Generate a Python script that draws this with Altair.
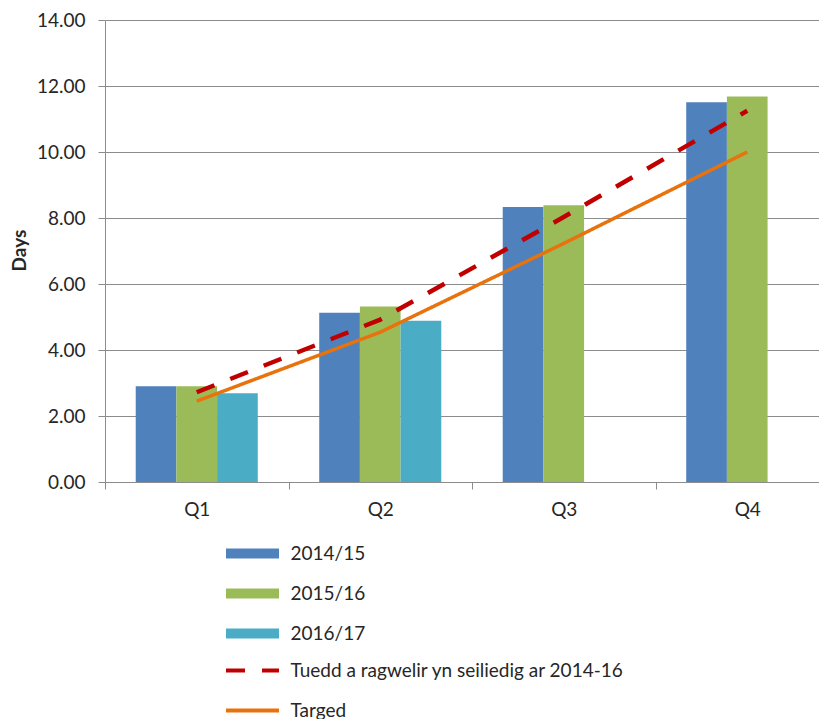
import altair as alt
import pandas as pd

quarters = ["Q1", "Q2", "Q3", "Q4"]
bar_series = ["2014/15", "2015/16", "2016/17"]
v_1415 = [2.90, 5.13, 8.33, 11.51]
v_1516 = [2.90, 5.32, 8.39, 11.68]
v_1617 = [2.69, 4.89, None, None]
line_series = ["Tuedd a ragwelir yn seiliedig ar 2014-16", "Targed"]
trend = [2.72, 4.92, 8.03, 11.25]
target = [2.45, 4.54, 7.23, 10.00]
y_ticks = [0, 2, 4, 6, 8, 10, 12, 14]

bar_colors = ["#4F81BD", "#9BBB59", "#4BACC6"]
line_colors = ["#C00000", "#E8720C"]

rows = []
for s, vals in zip(bar_series, [v_1415, v_1516, v_1617]):
    for q, v in zip(quarters, vals):
        if v is not None:
            rows.append({"quarter": q, "series": s, "value": v})
bars_df = pd.DataFrame(rows)

trend_df = pd.DataFrame({"quarter": quarters, "line": line_series[0], "value": trend})
target_df = pd.DataFrame({"quarter": quarters, "line": line_series[1], "value": target})

FONT = "Lato"
TXT = "#262626"
GRID = "#8C8C8C"

x_scale = alt.Scale(domain=quarters, range=[0, 734], paddingInner=0, paddingOuter=0)
y_scale = alt.Scale(domain=[0, 14], nice=False)

x_axis = alt.Axis(title=None, tickBand="extent", grid=False, domainColor=GRID,
                  tickColor=GRID, tickSize=7, labelFontSize=19, labelFont=FONT,
                  labelColor=TXT, labelBaseline="middle", labelPadding=20,
                  labelAngle=0)
y_axis = alt.Axis(title="Days", values=y_ticks, format=".2f", grid=True,
                  gridColor=GRID, domainColor=GRID, tickColor=GRID, tickSize=7,
                  labelFontSize=19, labelFont=FONT, labelColor=TXT, labelPadding=13,
                  titleFont=FONT, titleFontSize=19, titleFontWeight="bold",
                  titleColor=TXT, titleX=-86, titleY=230, titleBaseline="middle",
                  titleAngle=270)

bar_legend = alt.Legend(title=None, orient="none", legendX=138, legendY=524,
                        direction="vertical", symbolType="M-5.3,-1H5.3V1H-5.3Z",
                        symbolSize=100, symbolStrokeWidth=0, labelFontSize=19,
                        labelFont=FONT, labelColor=TXT, labelOffset=28.5,
                        rowPadding=20, labelLimit=600)
line_legend = alt.Legend(title=None, orient="none", legendX=138, legendY=641,
                         direction="vertical", symbolType="M-5.3,0H5.3",
                         symbolSize=100, symbolFillColor="transparent",
                         symbolStrokeWidth=4.2,
                         labelFontSize=19, labelFont=FONT, labelColor=TXT,
                         labelOffset=28.5, rowPadding=20, labelLimit=600)

bars = alt.Chart(bars_df).mark_bar().encode(
    x=alt.X("quarter:N", scale=x_scale, axis=x_axis, sort=quarters),
    xOffset=alt.XOffset("series:N", scale=alt.Scale(domain=bar_series, paddingOuter=0.755, paddingInner=0)),
    y=alt.Y("value:Q", scale=y_scale, axis=y_axis),
    fill=alt.Fill("series:N", scale=alt.Scale(domain=bar_series, range=bar_colors), legend=bar_legend),
)

stroke_enc = alt.Stroke("line:N", scale=alt.Scale(domain=line_series, range=line_colors), legend=line_legend)
dash_enc = alt.StrokeDash("line:N", scale=alt.Scale(domain=line_series, range=[[19, 17], [1, 0]]), legend=line_legend)

target_line = alt.Chart(target_df).mark_line(strokeCap="butt", strokeWidth=3.5).encode(
    x=alt.X("quarter:N", scale=x_scale, sort=quarters),
    y=alt.Y("value:Q", scale=y_scale),
    stroke=stroke_enc,
    strokeDash=dash_enc,
)
trend_line = alt.Chart(trend_df).mark_line(strokeCap="butt", strokeWidth=4.5).encode(
    x=alt.X("quarter:N", scale=x_scale, sort=quarters),
    y=alt.Y("value:Q", scale=y_scale),
    stroke=stroke_enc,
    strokeDash=dash_enc,
)

chart = alt.layer(bars, target_line, trend_line).properties(
    width=714, height=462,
    autosize=alt.AutoSizeParams(type="none"),
    padding={"left": 97, "top": 12, "right": 0, "bottom": 237},
).configure_view(strokeWidth=0).configure(font=FONT)

chart.save("out.html", embed_options={"renderer": "svg", "actions": False})
